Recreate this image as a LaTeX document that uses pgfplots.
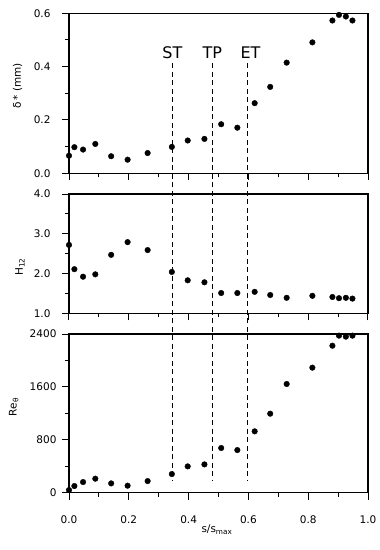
\documentclass[border=0pt]{standalone}
\usepackage{fontspec}
\setmainfont{DejaVu Sans}
\usepackage{pgfplots}
\usepackage{pgfplotstable}
\pgfplotsset{compat=1.18}

% boundary-layer data along the surface, s/s_max
\pgfplotstableread{
s      dstar  H12   Re
0.000  0.066  2.72  40
0.018  0.098  2.11  101
0.047  0.089  1.92  161
0.088  0.110  1.98  212
0.141  0.064  2.47  141
0.196  0.051  2.79  106
0.263  0.076  2.59  176
0.344  0.099  2.04  282
0.397  0.123  1.83  398
0.453  0.129  1.78  428
0.509  0.184  1.51  676
0.563  0.171  1.51  645
0.621  0.263  1.54  928
0.673  0.324  1.46  1195
0.728  0.415  1.39  1644
0.814  0.491  1.44  1891
0.881  0.573  1.41  2223
0.903  0.594  1.38  2375
0.926  0.588  1.39  2360
0.948  0.573  1.37  2375
}\bldata

\pgfplotsset{
  panel/.style={
    scale only axis, width=299pt,
    xmin=0, xmax=1,
    xtick={0,0.2,0.4,0.6,0.8,1}, minor x tick num=1,
    tick align=outside, xtick pos=left, ytick pos=left,
    axis line style={line width=1.3pt},
    major tick length=7pt, minor tick length=4pt,
    every tick/.style={line width=1pt, black},
    tick label style={font=\fontsize{10.5}{12}\selectfont},
    label style={font=\fontsize{10.5}{12}\selectfont},
    /pgf/number format/assume math mode=true,
    clip=false,
  },
  onedec/.style={/pgf/number format/fixed, /pgf/number format/fixed zerofill,
    /pgf/number format/precision=1},
  dots/.style={only marks, mark=*, mark size=2.8pt, black},
}
\tikzset{vline/.style={dash pattern=on 5pt off 3.5pt, line width=1pt},
  frame/.style={line width=1.3pt, black}}

\begin{document}
\begin{tikzpicture}
\useasboundingbox (0,0) rectangle (380pt,550pt);

% top: displacement thickness
\begin{axis}[panel, at={(69pt,376.7pt)}, anchor=south west, height=160pt,
  ymin=0, ymax=0.6, ytick={0,0.2,0.4,0.6}, minor y tick num=1,
  xticklabels={},
  yticklabel style={onedec, xshift=-8pt},
  ylabel={δ\,* (mm)},
  ylabel style={at={(axis description cs:-0.172,0.546)}, anchor=center},
]
\addplot[dots] table[x=s, y=dstar] {\bldata};
\coordinate (a1) at (rel axis cs:0,0);
\coordinate (b1) at (rel axis cs:1,1);
\coordinate (st1) at (axis cs:0.346,0.4125);
\coordinate (tp1) at (axis cs:0.479,0.4125);
\coordinate (et1) at (axis cs:0.597,0.4125);
\node[font=\fontsize{16}{18}\selectfont] at (axis cs:0.346,0.452) {ST};
\node[font=\fontsize{16}{18}\selectfont] at (axis cs:0.479,0.452) {TP};
\node[font=\fontsize{16}{18}\selectfont] at (axis cs:0.607,0.452) {ET};
\end{axis}

% middle: shape factor
\begin{axis}[panel, at={(69pt,236.7pt)}, anchor=south west, height=119.3pt,
  ymin=1, ymax=4, ytick={1,2,3,4}, minor y tick num=1,
  xticklabels={},
  yticklabel style={onedec, xshift=-8pt},
  ylabel={H\textsubscript{12}},
  ylabel style={at={(axis description cs:-0.164,0.388)}, anchor=center},
]
\addplot[dots] table[x=s, y=H12] {\bldata};
\coordinate (a2) at (rel axis cs:0,0);
\coordinate (b2) at (rel axis cs:1,1);
\end{axis}

% bottom: momentum thickness Reynolds number
\begin{axis}[panel, at={(69pt,57.3pt)}, anchor=south west, height=158.7pt,
  ymin=0, ymax=2400, ytick={0,800,1600,2400}, minor y tick num=1,
  scaled y ticks=false,
  yticklabel style={/pgf/number format/1000 sep={}, xshift=-2pt},
  xticklabel style={onedec, yshift=-12pt},
  xlabel={s/s\textsubscript{max}},
  xlabel style={at={(axis description cs:0.495,0)}, anchor=center, yshift=-37pt},
  ylabel={Re\textsubscript{θ}},
  ylabel style={at={(axis description cs:-0.185,0.54)}, anchor=center},
]
\addplot[dots] table[x=s, y=Re] {\bldata};
\coordinate (a3) at (rel axis cs:0,0);
\coordinate (b3) at (rel axis cs:1,1);
\coordinate (st2) at (axis cs:0.346,190);
\coordinate (tp2) at (axis cs:0.479,190);
\coordinate (et2) at (axis cs:0.597,190);
\end{axis}

\draw[frame] (a1) rectangle (b1);
\draw[frame] (a2) rectangle (b2);
\draw[frame] (a3) rectangle (b3);
\draw[vline] (st1) -- (st2);
\draw[vline] (tp1) -- (tp2);
\draw[vline] (et1) -- (et2);
\end{tikzpicture}
\end{document}
